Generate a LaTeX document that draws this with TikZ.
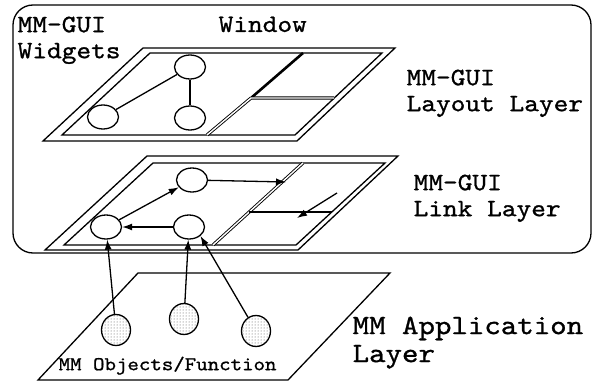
\documentclass[tikz,border=0pt]{standalone}
\usepackage{fontspec}
\setmonofont{lmmono10-regular}[Extension=.otf,FakeStretch=1.12,FakeBold=1]
\usetikzlibrary{shapes.geometric,patterns,arrows.meta}

\begin{document}
\begin{tikzpicture}[x=1pt,y=-1pt,line width=1.3pt,
  widget/.style={draw,ellipse,minimum width=31pt,minimum height=24pt,inner sep=0pt},
  object/.style={draw,ellipse,minimum width=29pt,minimum height=31pt,inner sep=0pt,
    pattern=dots,pattern color=black!70},
  txt/.style={font=\ttfamily\fontsize{25}{26}\selectfont,align=left,inner sep=0pt,anchor=north west},
  link/.style={-{Latex[length=10pt,width=7pt]}},
  sep/.style={double,double distance=1.4pt,line width=0.9pt}]
  \useasboundingbox (0,0) rectangle (596,385);
  \draw[rounded corners=20pt] (13,5) rectangle (591,253);

  % layout layer
  \draw (43,141) -- (143,48) -- (395,48) -- (297,141) -- cycle;
  \draw (62,135) -- (150,53) -- (382,53) -- (295,135) -- cycle;
  \draw[line width=2.6pt] (303,53) -- (251,98);
  \draw[sep] (251,98) -- (207,135) (251,98) -- (334,98);

  % link layer
  \draw (45,250) -- (147,156) -- (398,156) -- (298,250) -- cycle;
  \draw (64,245) -- (153,163) -- (385,163) -- (296,245) -- cycle;
  \draw[sep] (303,163) -- (213,245);
  \draw[line width=1.8pt] (249,212) -- (332,212);

  % application layer
  \draw (38,380) -- (138,273) -- (390,273) -- (288,380) -- cycle;

  \foreach \n/\p in {wtop/{190,67}, wleft/{103,117}, wmid/{190,118},
                     ltop/{192,180}, lleft/{106,227}, lright/{189,227}}
    \node[widget] (\n) at (\p) {};
  \foreach \n/\p in {obj1/{116,330}, obj2/{184,319}, obj3/{256,331}}
    \node[object] (\n) at (\p) {};

  \coordinate (diag) at (286,182);
  \coordinate (wfrom) at (337,193);
  \coordinate (wto) at (297,218);

  \draw (wtop) -- (wleft);
  \draw (wtop) -- (wmid);
  \draw[link] (lleft) -- (ltop);
  \draw[link] (lright) -- (lleft);
  \draw[link] (ltop) -- (diag);
  \draw[link] (wfrom) -- (wto);
  \draw[link] (obj1) -- (lleft);
  \draw[link] (obj2) -- (lright);
  \draw[link] (obj3) -- (lright.south east);

  \node[txt] (widgets) at (17,16) {MM-GUI\\Widgets};
  \node[txt] (window) at (218,16) {Window};
  \node[txt] (layout) at (406,69) {MM-GUI\\Layout Layer};
  \node[txt] (linklayer) at (413,174) {MM-GUI\\Link Layer};
  \node[txt,font=\ttfamily\fontsize{28}{28}\selectfont] (app) at (352,316) {MM Application\\Layer};
  \node[txt,font=\ttfamily\fontsize{19.5}{20}\selectfont] (objects) at (58,356) {MM Objects/Function};
\end{tikzpicture}
\end{document}
